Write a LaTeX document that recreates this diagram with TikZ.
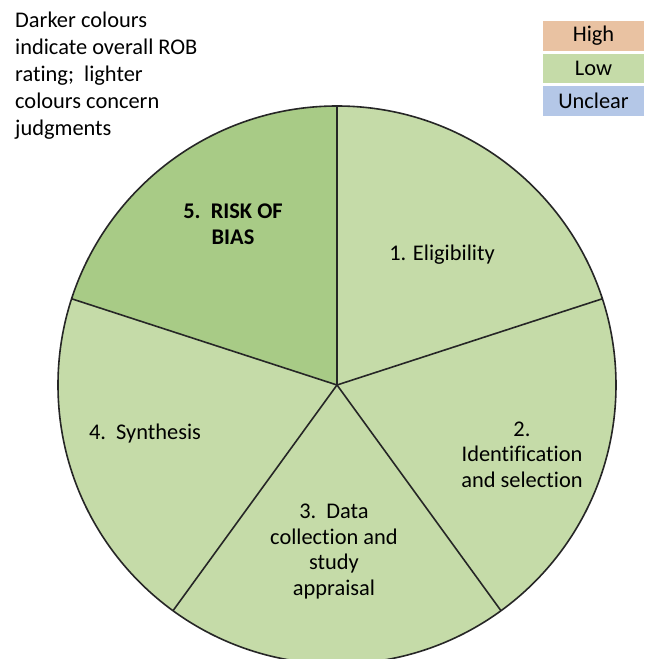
\documentclass[tikz,border=0pt]{standalone}
\usepackage{fontspec}
\setmainfont{Carlito}[Ligatures=NoCommon]
\usepackage{xcolor}
\usepackage{tikz}
\usetikzlibrary{positioning}

\definecolor{robdark}{HTML}{A8CB86}
\definecolor{roblight}{HTML}{C5DBA8}
\definecolor{robhigh}{HTML}{E9C2A2}
\definecolor{robunclear}{HTML}{B4C7E7}
\definecolor{robline}{HTML}{262626}

\tikzset{
    label/.style={align=center, font=\fontsize{22.4}{25.5}\selectfont, inner sep=0pt},
    key/.style={minimum width=101pt, minimum height=29.5pt, inner sep=0pt,
        font=\fontsize{22.4}{25}\selectfont}
}

\begin{document}
\begin{tikzpicture}[x=1pt, y=1pt]
        \def\r{279}
        \def\w{1.6pt}

        \clip (-337,-274) rectangle (312,385);
        \fill[white] (-337,-274) rectangle (312,385);

        % Slices
        \foreach \s/\e in {18/90, -54/18, -126/-54, 162/234}
            \fill[roblight] (0,0) -- (\s:\r) arc[start angle=\s, end angle=\e, radius=\r] -- cycle;
        \fill[robdark] (0,0) -- (90:\r) arc[start angle=90, end angle=162, radius=\r] -- cycle;

        % Borders
        \foreach \a in {90, 18, -54, -126, 162}
            \draw[robline, line width=\w] (0,0) -- (\a:\r);
        \draw[robline, line width=\w] (0,0) circle[radius=\r];

        % Slice labels
        \node[label, font=\bfseries\fontsize{22.4}{25.5}\selectfont] (bias) at (-104,161) {5.\ \ RISK OF\\BIAS};
        \node[label] (elig) at (105,130) {1. Eligibility};
        \node[label] (ident) at (185,-69.5) {2.\\Identification\\and selection};
        \node[label] (data) at (-3,-166.5) {3.\ \ Data\\collection and\\study\\appraisal};
        \node[label] (synth) at (-192,-49) {4.\ \ Synthesis};

        % Note
        \node[label, align=left, anchor=west, font=\fontsize{22.4}{27}\selectfont] (note) at (-322,309)
            {Darker colours\\indicate overall ROB\\rating;\ \ lighter\\colours concern\\judgments};

        % Legend
        \node[key, fill=robhigh] (high) at (256.5,349) {High};
        \node[key, fill=roblight, below=2.6pt of high] (low) {Low};
        \node[key, fill=robunclear, below=2.6pt of low] (unclear) {Unclear};
    \end{tikzpicture}
\end{document}
